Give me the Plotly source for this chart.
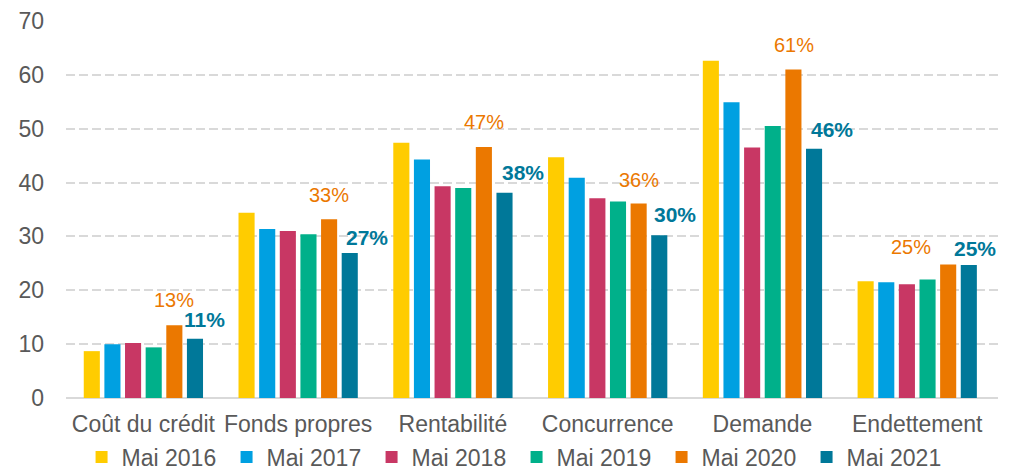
import plotly.graph_objects as go

categories = ["Coût du crédit", "Fonds propres", "Rentabilité", "Concurrence", "Demande", "Endettement"]
series_names = ["Mai 2016", "Mai 2017", "Mai 2018", "Mai 2019", "Mai 2020", "Mai 2021"]
mai_2016 = [8.7, 34.4, 47.4, 44.7, 62.6, 21.7]
mai_2017 = [10.0, 31.4, 44.3, 40.9, 54.9, 21.5]
mai_2018 = [10.2, 31.0, 39.3, 37.1, 46.5, 21.1]
mai_2019 = [9.4, 30.4, 39.0, 36.5, 50.5, 22.0]
mai_2020 = [13.5, 33.2, 46.6, 36.1, 61.0, 24.8]
mai_2021 = [11.0, 26.9, 38.1, 30.2, 46.3, 24.7]
label_2020 = ["13%", "33%", "47%", "36%", "61%", "25%"]
label_2021 = ["11%", "27%", "38%", "30%", "46%", "25%"]
y_ticks = [0, 10, 20, 30, 40, 50, 60, 70]

series_values = [mai_2016, mai_2017, mai_2018, mai_2019, mai_2020, mai_2021]
colors = ["#FFCC00", "#00A0E1", "#C83764", "#00B08A", "#EB7800", "#007899"]

FONT = "Liberation Sans, Arial, sans-serif"
GREY = "#595959"

# page body has an 8px default margin, so the figure is sized/offset to compensate
W, H = 1005, 463
M_L, M_R, M_T, M_B = 58, 15, 13, 73
BARGAP = 0.2
BARGROUPGAP = 0.22

fig = go.Figure()
for name, vals, col in zip(series_names, series_values, colors):
    fig.add_trace(go.Bar(x=categories, y=vals, name=name, marker_color=col,
                         marker_line_width=0))

# label styling (offsets in px relative to bar, gaps above bar top)
plot_w = W - M_L - M_R
cat_w = plot_w / len(categories)
slot = cat_w * (1 - BARGAP) / len(series_names)
off_2020 = (4 - 2.5) * slot
off_2021 = (5 - 2.5) * slot
extra_2020 = [0, 0, 0, 0, 0, -37]
extra_2021 = [9, 17, 18, 16, 18, 6]
gap_2020 = [17, 16, 17, 16, 16, 9]
gap_2021 = [11, 7, 12, 12, 11, 8]

annotations = []
for i, c in enumerate(categories):
    annotations.append(dict(x=c, y=mai_2020[i], xref="x", yref="y", text=label_2020[i],
                            showarrow=False, yanchor="bottom", xanchor="center",
                            xshift=off_2020 + extra_2020[i], yshift=gap_2020[i] - 5,
                            font=dict(family=FONT, size=20, color="#EB7800")))
    annotations.append(dict(x=c, y=mai_2021[i], xref="x", yref="y", text="<b>" + label_2021[i] + "</b>",
                            showarrow=False, yanchor="bottom", xanchor="center",
                            xshift=off_2021 + extra_2021[i], yshift=gap_2021[i] - 5,
                            font=dict(family=FONT, size=21, color="#007899")))

fig.update_layout(
    width=W, height=H,
    margin=dict(l=M_L, r=M_R, t=M_T, b=M_B, autoexpand=False),
    paper_bgcolor="white", plot_bgcolor="white",
    barmode="group", bargap=BARGAP, bargroupgap=BARGROUPGAP,
    font=dict(family=FONT, size=23, color=GREY),
    showlegend=True,
    legend=dict(orientation="h", x=0.0167, xanchor="left", xref="paper",
                y=1 - 449 / H, yanchor="middle", yref="container",
                entrywidth=100, entrywidthmode="pixels",
                font=dict(family=FONT, size=23, color=GREY), traceorder="normal",
                bgcolor="rgba(0,0,0,0)"),
    annotations=annotations,
    xaxis=dict(showgrid=False, showline=False, ticks="", automargin=False,
               ticklabelstandoff=10,
               tickfont=dict(family=FONT, size=23, color=GREY)),
    yaxis=dict(range=[0, 70], tickvals=y_ticks, showgrid=True, gridcolor="#D9D9D9",
               gridwidth=1.5, griddash="9px,4px", zeroline=True, zerolinecolor="#D9D9D9",
               zerolinewidth=2, showline=False, ticks="", ticklabelstandoff=21,
               automargin=False,
               tickfont=dict(family=FONT, size=23, color=GREY)),
)

fig.write_html("out.html")
